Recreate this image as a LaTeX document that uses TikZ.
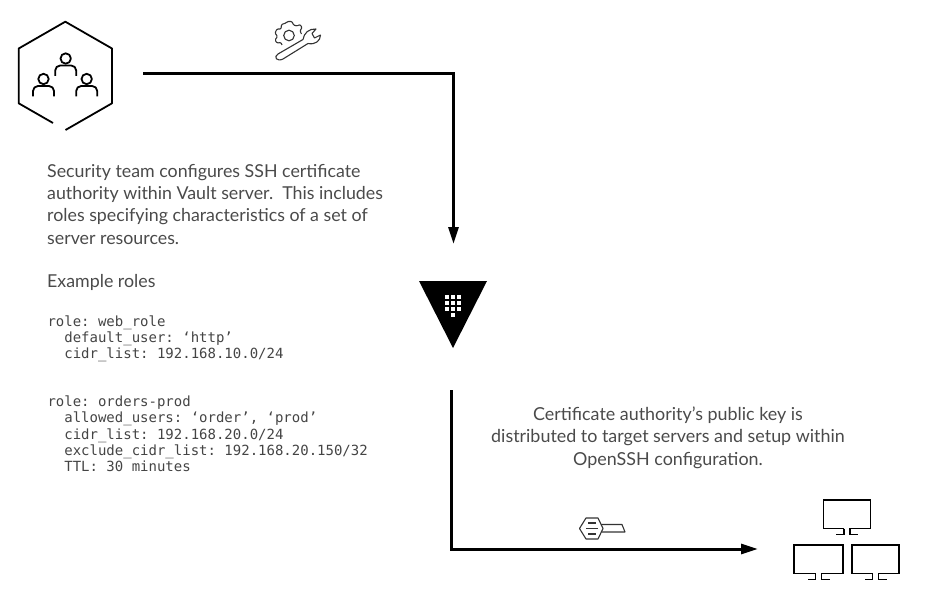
\documentclass[tikz,border=0pt]{standalone}
\usepackage{fontspec}
\setmainfont{Lato}
\setmonofont{DejaVu Sans Mono}
\usetikzlibrary{arrows.meta}
\definecolor{txt}{HTML}{4A4A4A}
\definecolor{codetxt}{HTML}{444444}
\tikzset{
  flow/.style={line width=3pt,-{Triangle[length=17pt,width=10pt]}},
  body/.style={inner sep=0pt,text=txt,font=\fontsize{17.8}{22.1}\selectfont,align=left,anchor=north west},
  center body/.style={inner sep=0pt,text=txt,font=\fontsize{17.9}{22.1}\selectfont,align=center,anchor=north},
  code/.style={inner sep=0pt,text=codetxt,font=\ttfamily\fontsize{14}{16.05}\selectfont,align=left,anchor=north west},
  icon/.style={line width=1.8pt,black,line join=round},
  thin icon/.style={line width=1.1pt,black!80,line join=round},
  screen line/.style={line width=1.9pt,black},
}
\newcommand{\person}[2]{%
  \draw[icon] (#1,#2) circle (5.2);
  \draw[icon,rounded corners=5pt] (#1-10.5,#2+17.5) -- (#1-10.5,#2+7) -- (#1+10.5,#2+7) -- (#1+10.5,#2+17.5);
}
\newcommand{\screen}[3]{% left, top, width
  \draw[screen line] (#1+#3/2-3,#2+28.5) -- (#1,#2+28.5) -- (#1,#2) -- (#1+#3,#2) -- (#1+#3,#2+28.5) -- (#1+#3/2+3,#2+28.5) -- (#1+#3/2+3,#2+34.5) -- (#1+#3/2+11,#2+34.5);
  \draw[screen line] (#1+#3/2-3,#2+28.5) -- (#1+#3/2-3,#2+34.5) -- (#1+#3/2-11,#2+34.5);
}
\begin{document}
\begin{tikzpicture}[x=1pt,y=-1pt]
\useasboundingbox (0,0) rectangle (929,607);
% team icon
\draw[icon] (53,123) -- (18.7,103.3) -- (18.7,48.5) -- (65.3,21.7) -- (112,48.5) -- (112,103.3) -- (65.5,130);
\person{65.7}{58.5}
\person{43.5}{79}
\person{86.7}{79}
% wrench-gear icon
\begin{scope}[thin icon]
\draw[rounded corners=1pt] (282,45) -- (281,42.5) -- (277,43) -- (275,40) -- (277.5,36.5) -- (275,33) -- (277,29) -- (281,29) -- (281.5,24.5) -- (286,23) -- (287.5,21.5) -- (292,21.5) -- (293.5,25) -- (297,26) -- (300,24.5) -- (302,27.5) -- (300,31) -- (301.5,34);
\draw (289,35.5) circle (5.3);
\draw (278,54) -- (303,39.5) .. controls (304,33) and (309,28.5) .. (316,29) -- (312,33.5) -- (314.5,38) -- (320.5,35) .. controls (320.5,41) and (315,45) .. (308,43.5) -- (283,59) .. controls (277,62) and (273,57) .. (278,54) -- cycle;
\end{scope}
% connector 1
\coordinate (teamout) at (143,74);
\coordinate (bend) at (453.5,74);
\coordinate (vaultin) at (453.5,244);
\draw[flow] (teamout) -- (bend) -- (vaultin);
% vault
\fill[black] (419,281) -- (487,281) -- (453,348) -- cycle;
\foreach \r/\c in {0/0,0/1,0/2,1/0,1/1,1/2,2/0,2/1,2/2}{
  \fill[white] (445+\c*6,295+\r*6) rectangle ++(4.2,4.2);
}
\fill[white] (451,312.8) rectangle ++(4.2,4.2);
% texts
\node[body] (desc) at (47,164.5) {Security team configures SSH certificate\\authority within Vault server.\ \ This includes\\roles specifying characteristics of a set of\\server resources.};
\node[body] (ex) at (47,274.5) {Example roles};
\node[code] (code1) at (47.3,315.7) {role: web\_role\\\ \ default\_user: ‘http’\\\ \ cidr\_list: 192.168.10.0/24};
\node[code] (code2) at (47.3,396) {role: orders-prod\\\ \ allowed\_users: ‘order’, ‘prod’\\\ \ cidr\_list: 192.168.20.0/24\\\ \ exclude\_cidr\_list: 192.168.20.150/32\\\ \ TTL: 30 minutes};
\node[center body] (ca) at (668,407) {Certificate authority’s public key is\\distributed to target servers and setup within\\OpenSSH configuration.};
% connector 2
\coordinate (vaultout) at (451.5,390);
\coordinate (bend2) at (451.5,549);
\coordinate (serversin) at (758,549);
\draw[flow] (vaultout) -- (bend2) -- (serversin);
% key icon
\begin{scope}[thin icon]
\draw (579.5,528.5) -- (586,518) -- (598,518) -- (603,528.5) -- (598,539) -- (586,539) -- cycle;
\draw (601,524.5) -- (622,524.5) -- (625,532) -- (601.5,532);
\draw (588,523) -- (596,523) (586,528.5) -- (598,528.5) (588,534) -- (596,534);
\end{scope}
% servers
\screen{823.5}{500}{47}
\screen{794}{545}{49}
\screen{852}{545}{47}
\end{tikzpicture}
\end{document}
